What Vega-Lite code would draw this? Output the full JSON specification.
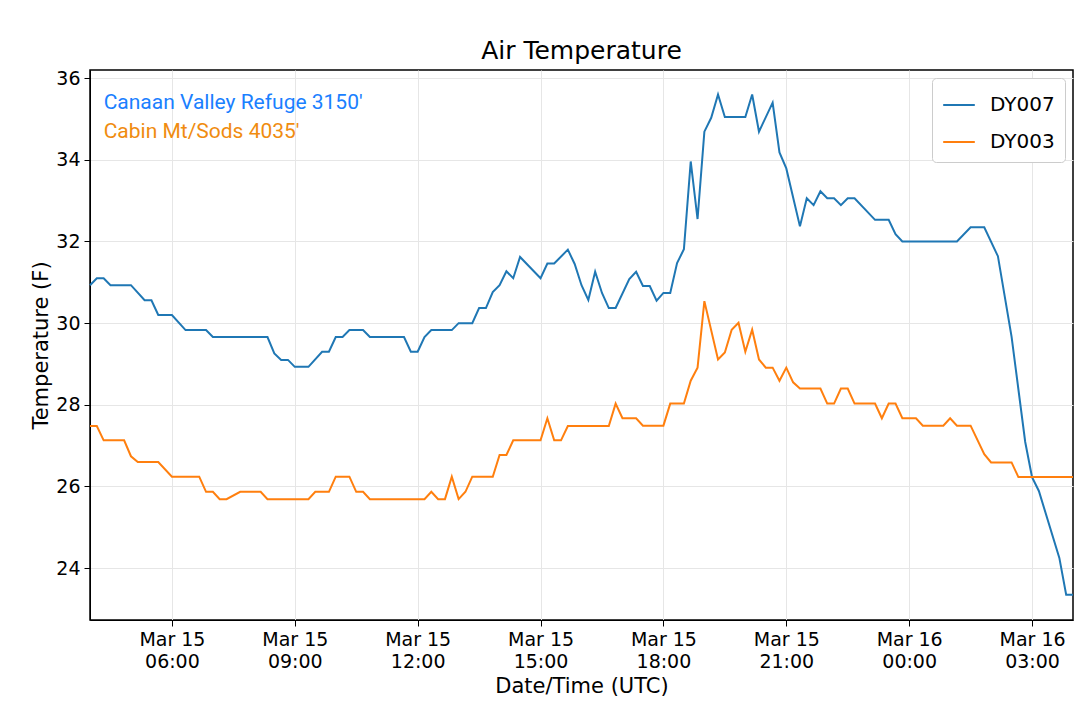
{
  "$schema": "https://vega.github.io/schema/vega-lite/v6.json",
  "width": 983,
  "height": 550,
  "autosize": {"type": "none"},
  "padding": {"left": 90, "top": 70, "right": 7, "bottom": 89},
  "background": "white",
  "title": {"text": "Air Temperature", "fontSize": 25, "font": "DejaVu Sans", "fontWeight": "normal", "offset": 5},
  "data": {
    "values": [
      {"s":"DY007","t":"2018-03-15T04:00:00Z","v":30.93},{"s":"DY007","t":"2018-03-15T04:10:00Z","v":31.1},{"s":"DY007","t":"2018-03-15T04:20:00Z","v":31.1},{"s":"DY007","t":"2018-03-15T04:30:00Z","v":30.93},{"s":"DY007","t":"2018-03-15T05:00:00Z","v":30.93},{"s":"DY007","t":"2018-03-15T05:20:00Z","v":30.56},{"s":"DY007","t":"2018-03-15T05:30:00Z","v":30.56},{"s":"DY007","t":"2018-03-15T05:40:00Z","v":30.2},{"s":"DY007","t":"2018-03-15T06:00:00Z","v":30.2},{"s":"DY007","t":"2018-03-15T06:20:00Z","v":29.83},{"s":"DY007","t":"2018-03-15T06:50:00Z","v":29.83},{"s":"DY007","t":"2018-03-15T07:00:00Z","v":29.66},{"s":"DY007","t":"2018-03-15T08:20:00Z","v":29.66},{"s":"DY007","t":"2018-03-15T08:30:00Z","v":29.26},{"s":"DY007","t":"2018-03-15T08:40:00Z","v":29.1},{"s":"DY007","t":"2018-03-15T08:50:00Z","v":29.1},{"s":"DY007","t":"2018-03-15T09:00:00Z","v":28.93},{"s":"DY007","t":"2018-03-15T09:20:00Z","v":28.93},{"s":"DY007","t":"2018-03-15T09:40:00Z","v":29.3},{"s":"DY007","t":"2018-03-15T09:50:00Z","v":29.3},{"s":"DY007","t":"2018-03-15T10:00:00Z","v":29.66},{"s":"DY007","t":"2018-03-15T10:10:00Z","v":29.66},{"s":"DY007","t":"2018-03-15T10:20:00Z","v":29.83},{"s":"DY007","t":"2018-03-15T10:40:00Z","v":29.83},{"s":"DY007","t":"2018-03-15T10:50:00Z","v":29.66},{"s":"DY007","t":"2018-03-15T11:40:00Z","v":29.66},{"s":"DY007","t":"2018-03-15T11:50:00Z","v":29.3},{"s":"DY007","t":"2018-03-15T12:00:00Z","v":29.3},{"s":"DY007","t":"2018-03-15T12:10:00Z","v":29.66},{"s":"DY007","t":"2018-03-15T12:20:00Z","v":29.83},{"s":"DY007","t":"2018-03-15T12:50:00Z","v":29.83},{"s":"DY007","t":"2018-03-15T13:00:00Z","v":30.0},{"s":"DY007","t":"2018-03-15T13:20:00Z","v":30.0},{"s":"DY007","t":"2018-03-15T13:30:00Z","v":30.37},{"s":"DY007","t":"2018-03-15T13:40:00Z","v":30.37},{"s":"DY007","t":"2018-03-15T13:50:00Z","v":30.76},{"s":"DY007","t":"2018-03-15T14:00:00Z","v":30.93},{"s":"DY007","t":"2018-03-15T14:10:00Z","v":31.27},{"s":"DY007","t":"2018-03-15T14:20:00Z","v":31.1},{"s":"DY007","t":"2018-03-15T14:30:00Z","v":31.62},{"s":"DY007","t":"2018-03-15T15:00:00Z","v":31.1},{"s":"DY007","t":"2018-03-15T15:10:00Z","v":31.46},{"s":"DY007","t":"2018-03-15T15:20:00Z","v":31.46},{"s":"DY007","t":"2018-03-15T15:40:00Z","v":31.8},{"s":"DY007","t":"2018-03-15T15:50:00Z","v":31.45},{"s":"DY007","t":"2018-03-15T16:00:00Z","v":30.93},{"s":"DY007","t":"2018-03-15T16:10:00Z","v":30.57},{"s":"DY007","t":"2018-03-15T16:20:00Z","v":31.26},{"s":"DY007","t":"2018-03-15T16:30:00Z","v":30.74},{"s":"DY007","t":"2018-03-15T16:40:00Z","v":30.37},{"s":"DY007","t":"2018-03-15T16:50:00Z","v":30.37},{"s":"DY007","t":"2018-03-15T17:10:00Z","v":31.08},{"s":"DY007","t":"2018-03-15T17:20:00Z","v":31.26},{"s":"DY007","t":"2018-03-15T17:30:00Z","v":30.91},{"s":"DY007","t":"2018-03-15T17:40:00Z","v":30.91},{"s":"DY007","t":"2018-03-15T17:50:00Z","v":30.55},{"s":"DY007","t":"2018-03-15T18:00:00Z","v":30.74},{"s":"DY007","t":"2018-03-15T18:10:00Z","v":30.74},{"s":"DY007","t":"2018-03-15T18:20:00Z","v":31.47},{"s":"DY007","t":"2018-03-15T18:30:00Z","v":31.81},{"s":"DY007","t":"2018-03-15T18:40:00Z","v":33.96},{"s":"DY007","t":"2018-03-15T18:50:00Z","v":32.55},{"s":"DY007","t":"2018-03-15T19:00:00Z","v":34.69},{"s":"DY007","t":"2018-03-15T19:10:00Z","v":35.03},{"s":"DY007","t":"2018-03-15T19:20:00Z","v":35.6},{"s":"DY007","t":"2018-03-15T19:30:00Z","v":35.05},{"s":"DY007","t":"2018-03-15T20:00:00Z","v":35.05},{"s":"DY007","t":"2018-03-15T20:10:00Z","v":35.6},{"s":"DY007","t":"2018-03-15T20:20:00Z","v":34.69},{"s":"DY007","t":"2018-03-15T20:40:00Z","v":35.4},{"s":"DY007","t":"2018-03-15T20:50:00Z","v":34.18},{"s":"DY007","t":"2018-03-15T21:00:00Z","v":33.79},{"s":"DY007","t":"2018-03-15T21:20:00Z","v":32.37},{"s":"DY007","t":"2018-03-15T21:30:00Z","v":33.06},{"s":"DY007","t":"2018-03-15T21:40:00Z","v":32.89},{"s":"DY007","t":"2018-03-15T21:50:00Z","v":33.23},{"s":"DY007","t":"2018-03-15T22:00:00Z","v":33.06},{"s":"DY007","t":"2018-03-15T22:10:00Z","v":33.06},{"s":"DY007","t":"2018-03-15T22:20:00Z","v":32.89},{"s":"DY007","t":"2018-03-15T22:30:00Z","v":33.06},{"s":"DY007","t":"2018-03-15T22:40:00Z","v":33.06},{"s":"DY007","t":"2018-03-15T23:10:00Z","v":32.53},{"s":"DY007","t":"2018-03-15T23:30:00Z","v":32.53},{"s":"DY007","t":"2018-03-15T23:40:00Z","v":32.18},{"s":"DY007","t":"2018-03-15T23:50:00Z","v":32.0},{"s":"DY007","t":"2018-03-16T01:10:00Z","v":32.0},{"s":"DY007","t":"2018-03-16T01:30:00Z","v":32.35},{"s":"DY007","t":"2018-03-16T01:50:00Z","v":32.35},{"s":"DY007","t":"2018-03-16T02:10:00Z","v":31.64},{"s":"DY007","t":"2018-03-16T02:30:00Z","v":29.67},{"s":"DY007","t":"2018-03-16T02:50:00Z","v":27.09},{"s":"DY007","t":"2018-03-16T03:00:00Z","v":26.23},{"s":"DY007","t":"2018-03-16T03:10:00Z","v":25.89},{"s":"DY007","t":"2018-03-16T03:40:00Z","v":24.25},{"s":"DY007","t":"2018-03-16T03:50:00Z","v":23.35},{"s":"DY007","t":"2018-03-16T04:00:00Z","v":23.35},
      {"s":"DY003","t":"2018-03-15T04:00:00Z","v":27.48},{"s":"DY003","t":"2018-03-15T04:10:00Z","v":27.48},{"s":"DY003","t":"2018-03-15T04:20:00Z","v":27.13},{"s":"DY003","t":"2018-03-15T04:50:00Z","v":27.13},{"s":"DY003","t":"2018-03-15T05:00:00Z","v":26.74},{"s":"DY003","t":"2018-03-15T05:10:00Z","v":26.6},{"s":"DY003","t":"2018-03-15T05:40:00Z","v":26.6},{"s":"DY003","t":"2018-03-15T06:00:00Z","v":26.24},{"s":"DY003","t":"2018-03-15T06:40:00Z","v":26.24},{"s":"DY003","t":"2018-03-15T06:50:00Z","v":25.87},{"s":"DY003","t":"2018-03-15T07:00:00Z","v":25.87},{"s":"DY003","t":"2018-03-15T07:10:00Z","v":25.69},{"s":"DY003","t":"2018-03-15T07:20:00Z","v":25.69},{"s":"DY003","t":"2018-03-15T07:40:00Z","v":25.87},{"s":"DY003","t":"2018-03-15T08:10:00Z","v":25.87},{"s":"DY003","t":"2018-03-15T08:20:00Z","v":25.69},{"s":"DY003","t":"2018-03-15T09:20:00Z","v":25.69},{"s":"DY003","t":"2018-03-15T09:30:00Z","v":25.87},{"s":"DY003","t":"2018-03-15T09:50:00Z","v":25.87},{"s":"DY003","t":"2018-03-15T10:00:00Z","v":26.24},{"s":"DY003","t":"2018-03-15T10:20:00Z","v":26.24},{"s":"DY003","t":"2018-03-15T10:30:00Z","v":25.87},{"s":"DY003","t":"2018-03-15T10:40:00Z","v":25.87},{"s":"DY003","t":"2018-03-15T10:50:00Z","v":25.69},{"s":"DY003","t":"2018-03-15T12:10:00Z","v":25.69},{"s":"DY003","t":"2018-03-15T12:20:00Z","v":25.87},{"s":"DY003","t":"2018-03-15T12:30:00Z","v":25.69},{"s":"DY003","t":"2018-03-15T12:40:00Z","v":25.69},{"s":"DY003","t":"2018-03-15T12:50:00Z","v":26.24},{"s":"DY003","t":"2018-03-15T13:00:00Z","v":25.69},{"s":"DY003","t":"2018-03-15T13:10:00Z","v":25.87},{"s":"DY003","t":"2018-03-15T13:20:00Z","v":26.24},{"s":"DY003","t":"2018-03-15T13:50:00Z","v":26.24},{"s":"DY003","t":"2018-03-15T14:00:00Z","v":26.77},{"s":"DY003","t":"2018-03-15T14:10:00Z","v":26.77},{"s":"DY003","t":"2018-03-15T14:20:00Z","v":27.13},{"s":"DY003","t":"2018-03-15T15:00:00Z","v":27.13},{"s":"DY003","t":"2018-03-15T15:10:00Z","v":27.67},{"s":"DY003","t":"2018-03-15T15:20:00Z","v":27.13},{"s":"DY003","t":"2018-03-15T15:30:00Z","v":27.13},{"s":"DY003","t":"2018-03-15T15:40:00Z","v":27.48},{"s":"DY003","t":"2018-03-15T16:40:00Z","v":27.48},{"s":"DY003","t":"2018-03-15T16:50:00Z","v":28.03},{"s":"DY003","t":"2018-03-15T17:00:00Z","v":27.67},{"s":"DY003","t":"2018-03-15T17:20:00Z","v":27.67},{"s":"DY003","t":"2018-03-15T17:30:00Z","v":27.49},{"s":"DY003","t":"2018-03-15T18:00:00Z","v":27.49},{"s":"DY003","t":"2018-03-15T18:10:00Z","v":28.03},{"s":"DY003","t":"2018-03-15T18:30:00Z","v":28.03},{"s":"DY003","t":"2018-03-15T18:40:00Z","v":28.59},{"s":"DY003","t":"2018-03-15T18:50:00Z","v":28.91},{"s":"DY003","t":"2018-03-15T19:00:00Z","v":30.54},{"s":"DY003","t":"2018-03-15T19:20:00Z","v":29.11},{"s":"DY003","t":"2018-03-15T19:30:00Z","v":29.28},{"s":"DY003","t":"2018-03-15T19:40:00Z","v":29.84},{"s":"DY003","t":"2018-03-15T19:50:00Z","v":30.01},{"s":"DY003","t":"2018-03-15T20:00:00Z","v":29.3},{"s":"DY003","t":"2018-03-15T20:10:00Z","v":29.84},{"s":"DY003","t":"2018-03-15T20:20:00Z","v":29.11},{"s":"DY003","t":"2018-03-15T20:30:00Z","v":28.91},{"s":"DY003","t":"2018-03-15T20:40:00Z","v":28.91},{"s":"DY003","t":"2018-03-15T20:50:00Z","v":28.59},{"s":"DY003","t":"2018-03-15T21:00:00Z","v":28.91},{"s":"DY003","t":"2018-03-15T21:10:00Z","v":28.55},{"s":"DY003","t":"2018-03-15T21:20:00Z","v":28.4},{"s":"DY003","t":"2018-03-15T21:50:00Z","v":28.4},{"s":"DY003","t":"2018-03-15T22:00:00Z","v":28.03},{"s":"DY003","t":"2018-03-15T22:10:00Z","v":28.03},{"s":"DY003","t":"2018-03-15T22:20:00Z","v":28.4},{"s":"DY003","t":"2018-03-15T22:30:00Z","v":28.4},{"s":"DY003","t":"2018-03-15T22:40:00Z","v":28.03},{"s":"DY003","t":"2018-03-15T23:10:00Z","v":28.03},{"s":"DY003","t":"2018-03-15T23:20:00Z","v":27.67},{"s":"DY003","t":"2018-03-15T23:30:00Z","v":28.03},{"s":"DY003","t":"2018-03-15T23:40:00Z","v":28.03},{"s":"DY003","t":"2018-03-15T23:50:00Z","v":27.67},{"s":"DY003","t":"2018-03-16T00:10:00Z","v":27.67},{"s":"DY003","t":"2018-03-16T00:20:00Z","v":27.49},{"s":"DY003","t":"2018-03-16T00:50:00Z","v":27.49},{"s":"DY003","t":"2018-03-16T01:00:00Z","v":27.67},{"s":"DY003","t":"2018-03-16T01:10:00Z","v":27.49},{"s":"DY003","t":"2018-03-16T01:30:00Z","v":27.49},{"s":"DY003","t":"2018-03-16T01:50:00Z","v":26.79},{"s":"DY003","t":"2018-03-16T02:00:00Z","v":26.59},{"s":"DY003","t":"2018-03-16T02:30:00Z","v":26.59},{"s":"DY003","t":"2018-03-16T02:40:00Z","v":26.23},{"s":"DY003","t":"2018-03-16T04:00:00Z","v":26.23}
    ]
  },
  "layer": [
    {
      "mark": {"type": "line", "strokeWidth": 2},
      "encoding": {
        "x": {
          "field": "t", "type": "temporal",
          "scale": {"type": "utc", "domain": [{"year": 2018, "month": 3, "date": 15, "hours": 4, "utc": true}, {"year": 2018, "month": 3, "date": 16, "hours": 4, "utc": true}]},
          "axis": {
            "title": "Date/Time (UTC)",
            "values": [
              {"year": 2018, "month": 3, "date": 15, "hours": 6, "utc": true},
              {"year": 2018, "month": 3, "date": 15, "hours": 9, "utc": true},
              {"year": 2018, "month": 3, "date": 15, "hours": 12, "utc": true},
              {"year": 2018, "month": 3, "date": 15, "hours": 15, "utc": true},
              {"year": 2018, "month": 3, "date": 15, "hours": 18, "utc": true},
              {"year": 2018, "month": 3, "date": 15, "hours": 21, "utc": true},
              {"year": 2018, "month": 3, "date": 16, "hours": 0, "utc": true},
              {"year": 2018, "month": 3, "date": 16, "hours": 3, "utc": true}
            ],
            "labelExpr": "split(utcFormat(datum.value, '%b %d|%H:%M'), '|')",
            "labelLineHeight": 22
          }
        },
        "y": {
          "field": "v", "type": "quantitative",
          "scale": {"domain": [22.73, 36.2], "nice": false, "zero": false},
          "axis": {"title": "Temperature (F)", "values": [24, 26, 28, 30, 32, 34, 36]}
        },
        "color": {
          "field": "s", "type": "nominal",
          "scale": {"domain": ["DY007", "DY003"], "range": ["#1f77b4", "#ff7f0e"]},
          "legend": {
            "title": null, "orient": "top-right", "symbolType": "stroke", "symbolSize": 1000, "symbolStrokeWidth": 2,
            "labelFontSize": 20, "labelOffset": 14, "strokeColor": "#cccccc", "padding": 10, "cornerRadius": 4, "fillColor": "white", "offset": 8, "rowPadding": 10
          }
        }
      }
    },
    {
      "data": {"values": [{"t": "2018-03-15T04:20:00Z", "v": 35.4, "label": "Canaan Valley Refuge 3150'"}]},
      "mark": {"type": "text", "align": "left", "baseline": "middle", "fontSize": 21, "font": "Roboto", "color": "#1a80ff"},
      "encoding": {
        "x": {"field": "t", "type": "temporal"},
        "y": {"field": "v", "type": "quantitative"},
        "text": {"field": "label"}
      }
    },
    {
      "data": {"values": [{"t": "2018-03-15T04:20:00Z", "v": 34.68, "label": "Cabin Mt/Sods 4035'"}]},
      "mark": {"type": "text", "align": "left", "baseline": "middle", "fontSize": 21, "font": "Roboto", "color": "#f08c10"},
      "encoding": {
        "x": {"field": "t", "type": "temporal"},
        "y": {"field": "v", "type": "quantitative"},
        "text": {"field": "label"}
      }
    }
  ],
  "config": {
    "font": "DejaVu Sans",
    "view": {"stroke": "black", "strokeWidth": 1.5},
    "axis": {
      "labelFontSize": 19, "titleFontSize": 21, "titleFontWeight": "normal", "labelColor": "black", "titleColor": "black",
      "gridColor": "#e6e6e6", "tickColor": "black", "domainColor": "black", "tickSize": 6, "labelPadding": 4
    },
    "legend": {"labelFont": "DejaVu Sans", "labelColor": "black"}
  }
}
